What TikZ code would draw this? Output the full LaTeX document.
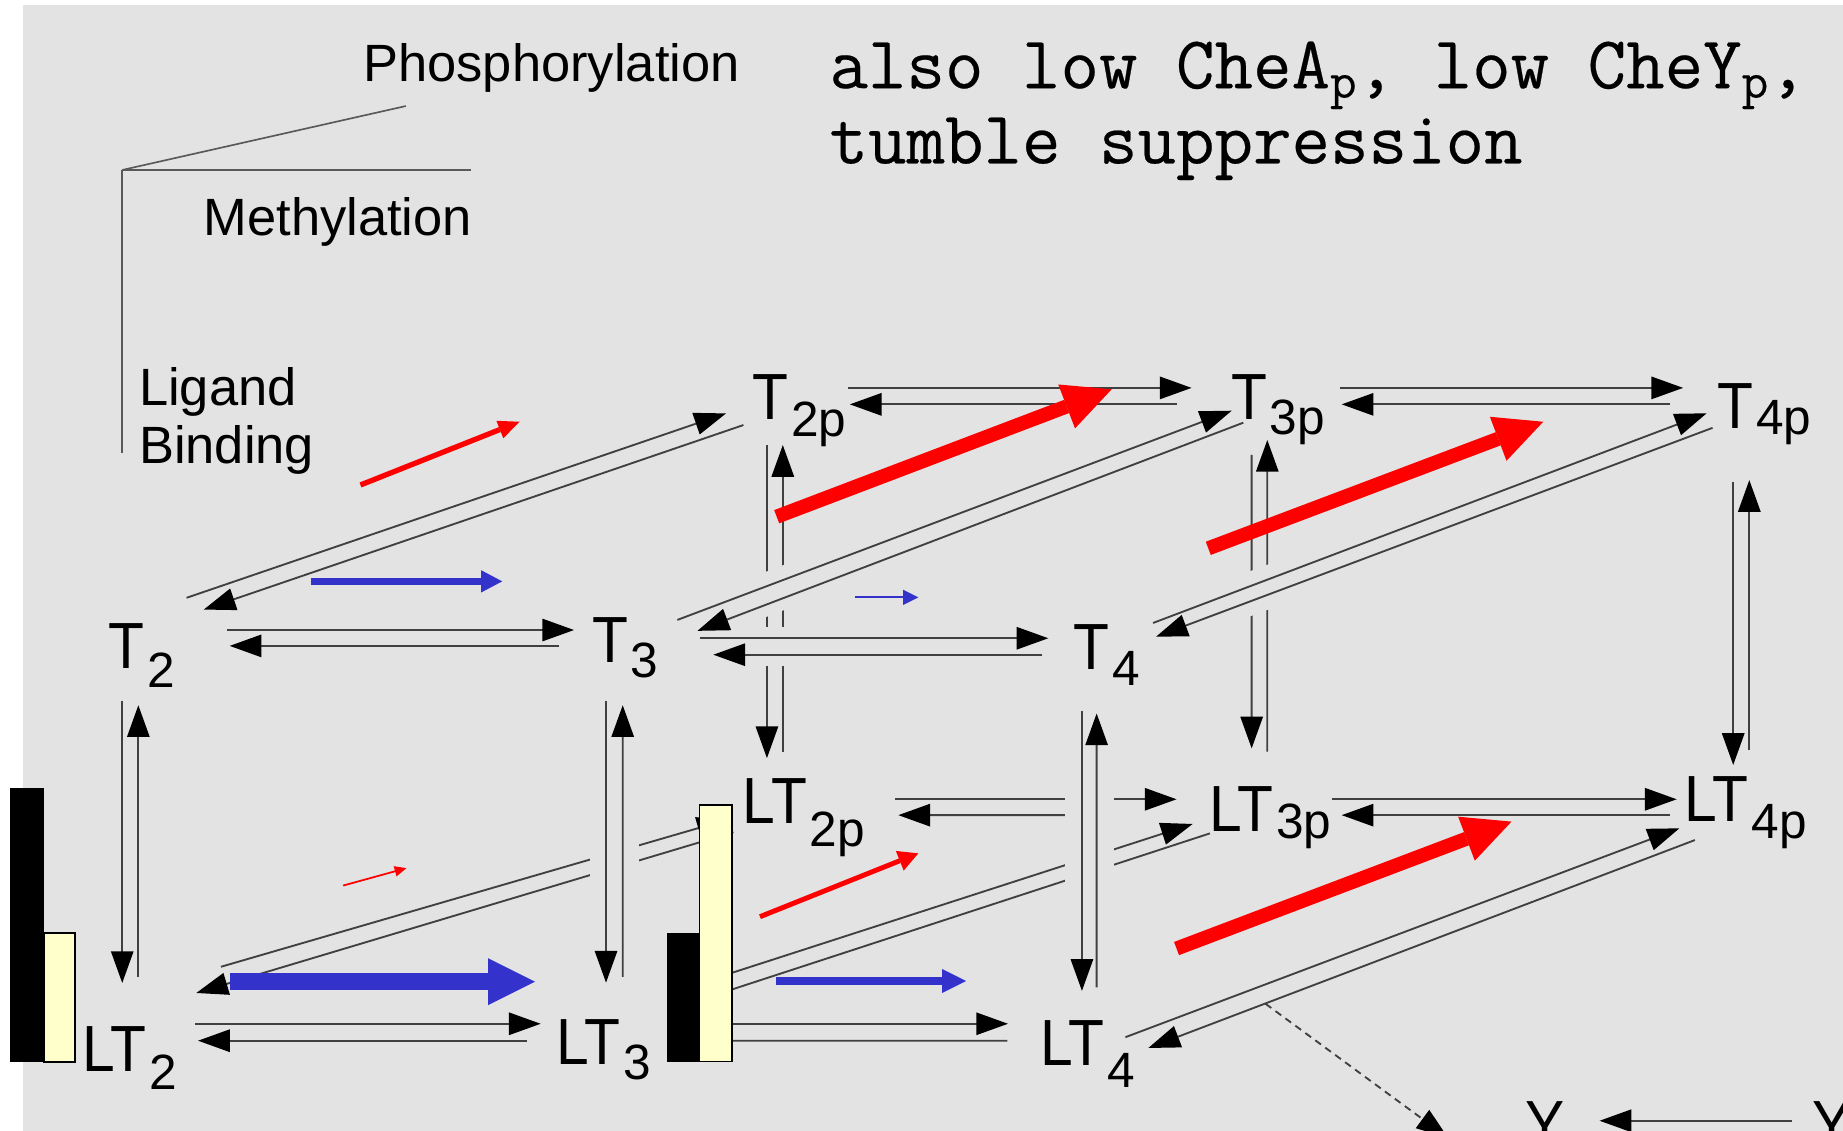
\documentclass[tikz,border=0pt]{standalone}
\usepackage{fontspec}
\setmainfont{Liberation Sans}
\newfontfamily\Sstate{Liberation Sans}[FakeStretch=0.9]
\newfontfamily\Smono{Latin Modern Mono}[FakeBold=0.3]
\usetikzlibrary{arrows.meta}
\definecolor{bggray}{HTML}{E3E3E3}
\definecolor{arrblue}{HTML}{3333CC}
\definecolor{baryellow}{HTML}{FFFFCC}
\newcommand{\Ssub}[2][1.4mm]{\kern0.25mm\raisebox{-#1}{\rmfamily\fontsize{12}{12}\selectfont #2}}
\newcommand{\Smsub}[1]{\raisebox{-0.8mm}{\fontsize{12.5}{12.5}\selectfont #1}}
\tikzset{
  st/.style={font=\Sstate\fontsize{15.8}{16}\selectfont, inner sep=0pt, anchor=base west},
  lab/.style={font=\fontsize{12.7}{14.05}\selectfont, inner sep=0pt, anchor=base west},
  mono/.style={font=\Smono\fontsize{18.1}{18.2}\selectfont, inner sep=0pt, anchor=base west, align=left},
  con/.style={draw=black!75, line width=0.45pt, -{Triangle[length=2.7mm,width=1.9mm,color=black]}},
  dashcon/.style={dash pattern=on 0.6mm off 0.45mm},
  cutgap/.style={draw=bggray, line width=#1},
  axisline/.style={draw=black!65, line width=0.4pt},
  fat/.style n args={4}{draw=#1, line width=#2, -{Triangle[length=#3,width=#4,line width=0pt]}}
}

\begin{document}
\begin{tikzpicture}[x=0.1mm,y=-0.1mm]
\useasboundingbox (0,0) rectangle (1568,962);
\clip (0,0) rectangle (1568,962);
\fill[bggray] (19.6,4.3) rectangle (1568,962);
% axes
\coordinate (ax) at (104,144.6);
\draw[axisline] (ax) -- (104,385.6);
\draw[axisline] (ax) -- (400.5,144.6);
\draw[axisline] (ax) -- (345.3,90.2);
\node[lab] (phos) at (308.5,69.5) {Phosphorylation};
\node[lab] (meth) at (172.5,200) {Methylation};
\node[lab,align=left] (lig) at (117.7,394) {Ligand\\Binding};
\node[mono] (note) at (705,139) {also low CheA\Smsub{p}, low CheY\Smsub{p},\\tumble suppression};
% states
\node[st] (T2) at (91.5,569) {T\Ssub[1.55mm]{2}};
\node[st] (T3) at (503,564) {T\Ssub[1.27mm]{3}};
\node[st] (T4) at (913,570) {T\Ssub[1.28mm]{4}};
\node[st] (T2p) at (639.5,357.3) {T\Ssub[1.42mm]{2p}};
\node[st] (T3p) at (1046.7,357.3) {T\Ssub[1.27mm]{3p}};
\node[st] (T4p) at (1460.4,364.4) {T\Ssub[0.56mm]{4p}};
\node[st] (LT2) at (69.3,911.5) {LT\Ssub[1.55mm]{2}};
\node[st] (LT3) at (472.4,906) {LT\Ssub[1.28mm]{3}};
\node[st] (LT4) at (884.5,906.4) {LT\Ssub[1.88mm]{4}};
\node[st] (LT2p) at (631.2,700.5) {LT\Ssub[1.98mm]{2p}};
\node[st] (LT3p) at (1028,707.6) {LT\Ssub[0.56mm]{3p}};
\node[st] (LT4p) at (1432.4,699) {LT\Ssub[1.42mm]{4p}};
\node[st] (Y) at (1297,975.7) {Y};
\node[st] (Yp) at (1541,975.7) {Y};
\coordinate (CheY) at (1232,968);
%
% back face
\draw[con] ([shift={(82.1,-27.3)}]T2p.base west) -- ([shift={(-32.9,-27.3)}]T3p.base west);
\draw[con] ([shift={(-45.7,-13.3)}]T3p.base west) -- ([shift={(83.5,-13.3)}]T2p.base west);
\draw[con] ([shift={(93.3,-27.3)}]T3p.base west) -- ([shift={(-28.4,-34.4)}]T4p.base west);
\draw[con] ([shift={(-39.6,-20.4)}]T4p.base west) -- ([shift={(94.8,-13.3)}]T3p.base west);
\draw[con] ([shift={(130.3,-20.5)}]LT2p.base west) -- ([shift={(-27,-27.6)}]LT3p.base west);
\draw[con] ([shift={(-108,-14.1)}]LT3p.base west) -- ([shift={(133.1,-7)}]LT2p.base west);
\draw[con] ([shift={(105,-27.6)}]LT3p.base west) -- ([shift={(-5.9,-19)}]LT4p.base west);
\draw[con] ([shift={(-11.6,-5.5)}]LT4p.base west) -- ([shift={(113.5,-14.1)}]LT3p.base west);
\draw[con] ([shift={(13,21.3)}]T2p.base west) -- ([shift={(21.3,-55.5)}]LT2p.base west);
\draw[con] ([shift={(34.8,-61)}]LT2p.base west) -- ([shift={(26.5,21.3)}]T2p.base west);
\draw[con] ([shift={(18.2,29.7)}]T3p.base west) -- ([shift={(36.9,-70.9)}]LT3p.base west);
\draw[con] ([shift={(50.2,-68.1)}]LT3p.base west) -- ([shift={(31.5,17)}]T3p.base west);
\draw[con] ([shift={(14.2,45.4)}]T4p.base west) -- ([shift={(42.2,-48.2)}]LT4p.base west);
\draw[con] ([shift={(55.9,-61)}]LT4p.base west) -- ([shift={(27.9,44)}]T4p.base west);
%
% diagonals
\draw[cutgap=3.6mm] ([shift={(127,-50)}]T3.base west) -- ([shift={(187,-73)}]T3.base west);
\draw[cutgap=3.6mm] ([shift={(127,-56)}]T4.base west) -- ([shift={(187,-78.5)}]T4.base west);
\draw[con] ([shift={(67.2,-60.4)}]T2.base west) -- ([shift={(-21.8,-5.6)}]T2p.base west);
\draw[con] ([shift={(-7,4.3)}]T2p.base west) -- ([shift={(81.9,-50.4)}]T2.base west);
\draw[con] ([shift={(73.3,-36.6)}]T3.base west) -- ([shift={(1.2,-7.9)}]T3p.base west);
\draw[con] ([shift={(11.1,2.3)}]T3p.base west) -- ([shift={(90.4,-27.3)}]T3.base west);
\draw[con] ([shift={(68,-40)}]T4.base west) -- ([shift={(-8.4,-12.8)}]T4p.base west);
\draw[con] ([shift={(-3.4,-0.4)}]T4p.base west) -- ([shift={(70.5,-28.3)}]T4.base west);
\draw[con] ([shift={(118.7,-89)}]LT2.base west) -- ([shift={(-11.2,-3.5)}]LT2p.base west);
\draw[con] ([shift={(-7.2,7.5)}]LT2p.base west) -- ([shift={(97.7,-66.7)}]LT2.base west);
\draw[con] ([shift={(127.6,-71)}]LT3.base west) -- ([shift={(-13.3,-6.6)}]LT3p.base west);
\draw[con] ([shift={(1.4,1.4)}]LT3p.base west) -- ([shift={(117.6,-53.5)}]LT3.base west);
\draw[con] ([shift={(73,-24)}]LT4.base west) -- ([shift={(-3.6,5.7)}]LT4p.base west);
\draw[con] ([shift={(9.6,15.7)}]LT4p.base west) -- ([shift={(92.5,-14.8)}]LT4.base west);
%
% front face
\draw[cutgap=4.2mm] ([shift={(19.7,126)}]T3.base west) -- ([shift={(19.7,216)}]T3.base west);
\draw[cutgap=4.2mm] ([shift={(13.7,95)}]T4.base west) -- ([shift={(13.7,200)}]T4.base west);
\draw[cutgap=3.3mm] ([shift={(132,-14)}]T3.base west) -- ([shift={(187,-14)}]T3.base west);
\draw[con] ([shift={(101.5,-33)}]T2.base west) -- ([shift={(-14.6,-28)}]T3.base west);
\draw[con] ([shift={(-27,-14.5)}]T3.base west) -- ([shift={(103.9,-19.5)}]T2.base west);
\draw[con] ([shift={(92.6,-21)}]T3.base west) -- ([shift={(-21.1,-27)}]T4.base west);
\draw[con] ([shift={(-26.8,-13)}]T4.base west) -- ([shift={(103.9,-7)}]T3.base west);
\draw[con] ([shift={(96.7,-40.5)}]LT2.base west) -- ([shift={(-12.4,-35)}]LT3.base west);
\draw[con] ([shift={(-23.9,-20.6)}]LT3.base west) -- ([shift={(99.2,-26.1)}]LT2.base west);
\draw[con] ([shift={(107.6,-35)}]LT3.base west) -- ([shift={(-26.9,-35.4)}]LT4.base west);
\draw[con] ([shift={(-27.5,-21)}]LT4.base west) -- ([shift={(107.6,-20.6)}]LT3.base west);
\draw[con] ([shift={(12.5,27.5)}]T2.base west) -- ([shift={(34.7,-75.2)}]LT2.base west);
\draw[con] ([shift={(48.4,-80.5)}]LT2.base west) -- ([shift={(26.2,31)}]T2.base west);
\draw[con] ([shift={(12.6,32.5)}]T3.base west) -- ([shift={(43.2,-70)}]LT3.base west);
\draw[con] ([shift={(57.4,-75)}]LT3.base west) -- ([shift={(26.8,36)}]T3.base west);
\draw[con] ([shift={(7.5,35)}]T4.base west) -- ([shift={(36,-63.4)}]LT4.base west);
\draw[con] ([shift={(48.5,-66.4)}]LT4.base west) -- ([shift={(20,37)}]T4.base west);
%
% bars
\fill[black] (8.8,670.8) rectangle (37.6,903.6);
\filldraw[fill=baryellow,draw=black,line width=0.4pt] (37.6,794) rectangle (64,903.6);
\fill[black] (567.2,793.5) rectangle (595,903.2);
\filldraw[fill=baryellow,draw=black,line width=0.4pt] (595,684.9) rectangle (622.5,903.2);
%
\draw[con,dashcon] ([shift={(192.2,-52.4)}]LT4.base west) -- (CheY);
\draw[con] ([shift={(-16.4,-22.2)}]Yp.base west) -- ([shift={(63.9,-22.2)}]Y.base west);
%
% flux arrows
\draw[fat={red}{0.45mm}{1.8mm}{1.6mm}] (306.7,412.6) -- (442,358.8);
\draw[fat={red}{1.2mm}{4.1mm}{4mm}] (660.8,439.6) -- (945.8,331.2);
\draw[fat={red}{1.2mm}{4.1mm}{4mm}] (1028,466.5) -- (1313,358.8);
\draw[fat={red}{0.15mm}{1mm}{0.9mm}] (292,753.4) -- (345.8,738.6);
\draw[fat={red}{0.42mm}{1.7mm}{1.8mm}] (646.6,779.9) -- (781.3,726);
\draw[fat={red}{1.2mm}{4.1mm}{4mm}] (1001,807) -- (1286,699);
\draw[fat={arrblue}{0.6mm}{1.8mm}{1.9mm}] (265,494.6) -- (427.3,494.6);
\draw[fat={arrblue}{0.15mm}{1.3mm}{1.3mm}] (727.4,508.2) -- (781.3,508.2);
\draw[fat={arrblue}{1.47mm}{4mm}{4mm}] (195.4,835.2) -- (455.2,835.2);
\draw[fat={arrblue}{0.65mm}{2.05mm}{2.05mm}] (660,834.6) -- (822,834.6);
\end{tikzpicture}
\end{document}
